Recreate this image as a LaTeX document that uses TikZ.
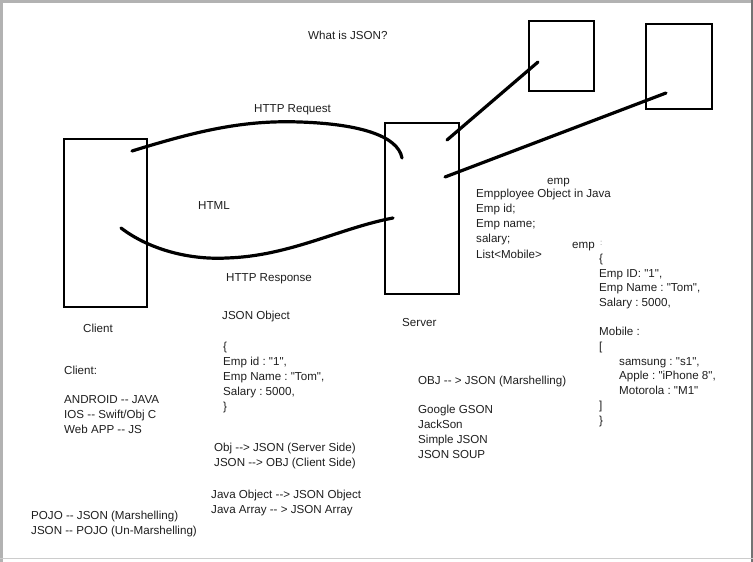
\documentclass[tikz,border=0pt]{standalone}
\usepackage{fontspec}
\setmainfont{Liberation Sans}[Ligatures=TeXOff]
\frenchspacing
\begin{document}
\begin{tikzpicture}[x=1pt,y=-1pt,
  box/.style={draw=black,line width=2.6pt,inner sep=0pt,rectangle},
  stroke/.style={draw=black,line width=3.2pt,line cap=round},
  txt/.style={anchor=west,inner sep=0pt,text height=9pt,text depth=2pt,
    font=\fontsize{11.6}{14}\selectfont,text=black!88},
  frameline/.style={draw=black!30,line width=3pt}]
  % page area and window frame
  \useasboundingbox (0,0) rectangle (753,562);
  \fill[white] (0,0) rectangle (753,562);
  \draw[frameline] (1.5,0) -- (1.5,562);
  \draw[frameline] (0,1.5) -- (753,1.5);
  \draw[draw=black!55,line width=2pt] (751.5,0) -- (751.5,562);
  \draw[draw=black!20,line width=1pt] (0,558.5) -- (753,558.5);

  % title
  \node[txt] (title) at (308,36) {What is JSON?};

  % boxes
  \node[box,minimum width=83pt,minimum height=168pt] (client) at (105.5,223) {};
  \node[box,minimum width=74pt,minimum height=171pt] (server) at (422,208.5) {};
  \node[box,minimum width=65pt,minimum height=70pt] (objA) at (561.5,56) {};
  \node[box,minimum width=66pt,minimum height=85pt] (objB) at (679,66.5) {};

  % connector end points
  \coordinate (reqA) at (132,151);
  \coordinate (reqB) at (402,158);
  \coordinate (resA) at (121,228);
  \coordinate (resB) at (393,218);
  \coordinate (dbA1) at (447,140);
  \coordinate (dbA2) at (538,62);
  \coordinate (dbB1) at (445,177);
  \coordinate (dbB2) at (666,93);

  % request and response arcs
  \draw[stroke] (reqA) .. controls (200,130) and (245,120) .. (300,122)
                       .. controls (360,124) and (398,136) .. (reqB);
  \draw[stroke] (resA) .. controls (150,250) and (190,260) .. (227,258)
                       .. controls (290,256) and (340,228) .. (resB);
  % links to the two small boxes
  \draw[stroke] (dbA1) -- (dbA2);
  \draw[stroke] (dbB1) -- (dbB2);

  % arc labels
  \node[txt] (req) at (254,109) {HTTP Request};
  \node[txt] (html) at (198,206) {HTML};
  \node[txt] (res) at (226,278) {HTTP Response};
  \node[txt] (clientlbl) at (83,329) {Client};
  \node[txt] (serverlbl) at (402,323) {Server};

  % JSON object
  \node[txt] (jo0) at (222,316) {JSON Object};
  \node[txt] (jo1) at (223,347) {\{};
  \node[txt] (jo2) at (223,362) {Emp id : "1",};
  \node[txt] (jo3) at (223,377) {Emp Name : "Tom",};
  \node[txt] (jo4) at (223,392) {Salary : 5000,};
  \node[txt] (jo5) at (223,407) {\}};

  \node[txt] (cv1) at (214,448) {Obj --> JSON (Server Side)};
  \node[txt] (cv2) at (214,463) {JSON --> OBJ (Client Side)};
  \node[txt] (cv3) at (211,495) {Java Object --> JSON Object};
  \node[txt] (cv4) at (211,510) {Java Array -- > JSON Array};

  % clients
  \node[txt] (cl0) at (64,371) {Client:};
  \node[txt] (cl1) at (64,400) {ANDROID -- JAVA};
  \node[txt] (cl2) at (64,415) {IOS -- Swift/Obj C};
  \node[txt] (cl3) at (64,430) {Web APP -- JS};

  \node[txt] (pj1) at (31,516) {POJO -- JSON (Marshelling)};
  \node[txt] (pj2) at (31,531) {JSON -- POJO (Un-Marshelling)};

  % libraries
  \node[txt] (lb0) at (418,381) {OBJ -- > JSON (Marshelling)};
  \node[txt] (lb1) at (418,410) {Google GSON};
  \node[txt] (lb2) at (418,425) {JackSon};
  \node[txt] (lb3) at (418,440) {Simple JSON};
  \node[txt] (lb4) at (418,455) {JSON SOUP};

  % Java class
  \node[txt] (jv0) at (547,181) {emp};
  \node[txt] (jv1) at (476,194) {Empployee Object in Java};
  \node[txt] (jv2) at (476,209) {Emp id;};
  \node[txt] (jv3) at (476,224) {Emp name;};
  \node[txt] (jv4) at (476,239) {salary;};
  \node[txt] (jv5) at (476,255) {List<Mobile>};

  % JSON with array
  \node[txt] (em0) at (572,245) {emp};
  \node[txt,text=black!45,font=\fontsize{8}{10}\selectfont] (em0c) at (600,242) {:};
  \node[txt] (em1) at (599,259) {\{};
  \node[txt] (em2) at (599,274) {Emp ID: "1",};
  \node[txt] (em3) at (599,288) {Emp Name : "Tom",};
  \node[txt] (em4) at (599,303) {Salary : 5000,};
  \node[txt] (em5) at (599,332) {Mobile :};
  \node[txt] (em6) at (599,347) {[};
  \node[txt] (em7) at (619,362) {samsung : "s1",};
  \node[txt] (em8) at (619,376) {Apple : "iPhone 8",};
  \node[txt] (em9) at (619,391) {Motorola : "M1"};
  \node[txt] (em10) at (599,406) {]};
  \node[txt] (em11) at (599,421) {\}};
\end{tikzpicture}
\end{document}
